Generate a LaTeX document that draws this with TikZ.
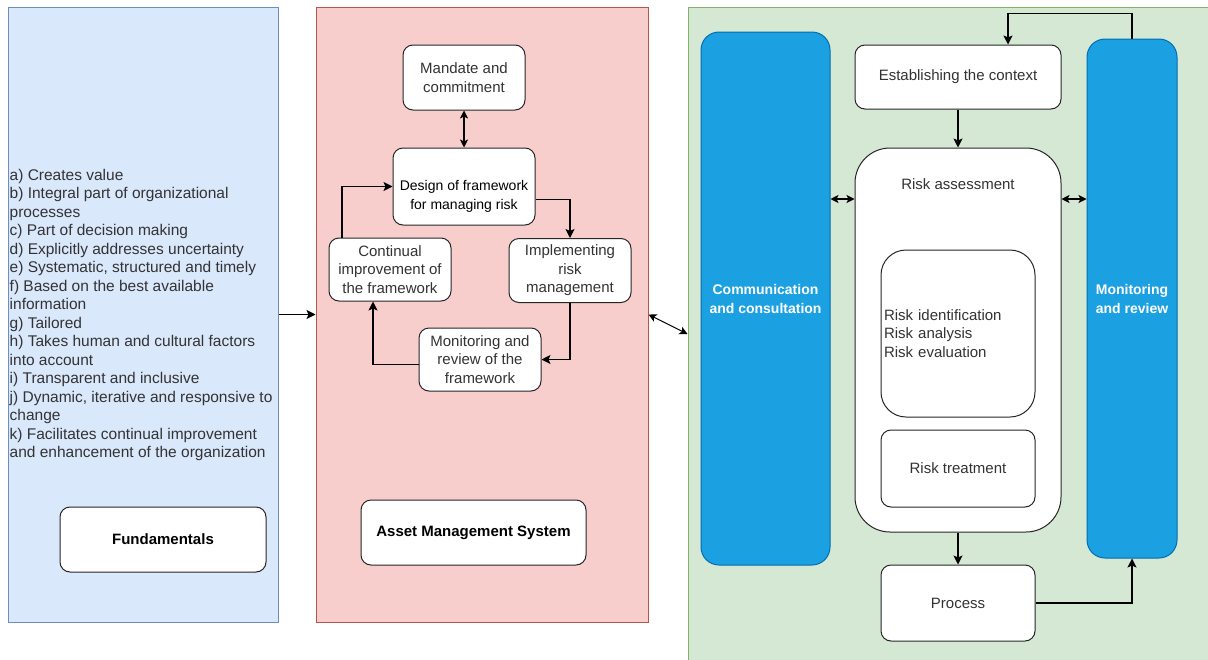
\documentclass[tikz,border=0pt]{standalone}
\usepackage{fontspec}
\setmainfont{Liberation Sans}
\usetikzlibrary{arrows.meta,positioning}

\definecolor{fundfill}{HTML}{DAE8FC}
\definecolor{funddraw}{HTML}{6C8EBF}
\definecolor{amfill}{HTML}{F8CECC}
\definecolor{amdraw}{HTML}{B85450}
\definecolor{riskfill}{HTML}{D5E8D4}
\definecolor{riskdraw}{HTML}{82B366}
\definecolor{bandfill}{HTML}{1BA1E2}
\definecolor{banddraw}{HTML}{006EAF}
\definecolor{txt}{HTML}{333333}

\tikzset{
	panel/.style={draw, line width=1pt, inner sep=0pt},
	box/.style={draw=black!85, fill=white, line width=1pt, rounded corners=10pt,
		align=center, inner sep=0pt, text=txt, font=\fontsize{15}{18.5}\selectfont},
	band/.style={draw=banddraw, fill=bandfill, line width=1pt, rounded corners=18pt,
		align=center, inner sep=0pt, text=white, font=\fontsize{14}{19}\selectfont\bfseries},
	link/.style={line width=1.1pt, -{Stealth[length=9pt,width=9pt,inset=2pt]}},
	dlink/.style={line width=1.1pt, {Stealth[length=8pt,width=8pt,inset=2pt]}-{Stealth[length=8pt,width=8pt,inset=2pt]}}
}

\begin{document}
\begin{tikzpicture}[x=1pt,y=-1pt]
	\useasboundingbox (0,0) rectangle (1208,659);
	% three panels
	\node [panel, draw=funddraw, fill=fundfill, minimum width=270, minimum height=615] (fundpanel) at (143,314.5) {};
	\node [panel, draw=amdraw, fill=amfill, minimum width=332, minimum height=615] (ampanel) at (482,314.5) {};
	\node [panel, draw=riskdraw, fill=riskfill, minimum width=528, minimum height=654] (riskpanel) at (952,334) {};

	% fundamentals
	\node [anchor=west, align=left, inner sep=2pt, text=txt, font=\fontsize{15.5}{18.5}\selectfont] (principles) at ([yshift=-0.5]fundpanel.west) {a) Creates value\\
		b) Integral part of organizational\\
		processes\\
		c) Part of decision making\\
		d) Explicitly addresses uncertainty\\
		e) Systematic, structured and timely\\
		f) Based on the best available\\
		information\\
		g) Tailored\\
		h) Takes human and cultural factors\\
		into account\\
		i) Transparent and inclusive\\
		j) Dynamic, iterative and responsive to\\
		change\\
		k) Facilitates continual improvement\\
		and enhancement of the organization};
	\node [box, minimum width=206, minimum height=65, font=\fontsize{15}{18.5}\selectfont\bfseries, text=black] (fundbox) at (163,539.5) {Fundamentals};

	% asset management system
	\node [box, minimum width=122, minimum height=65] (mandate) at (464,77.5) {Mandate and\\commitment};
	\node [box, minimum width=142, minimum height=77] (design) at (464,186.5) {};
	\node [align=center, inner sep=0pt, font=\fontsize{14}{19}\selectfont] (designlbl) at ([yshift=-10]design.center) {Design of framework\\for managing risk};
	\node [box, minimum width=122, minimum height=63] (contimp) at (390,269.5) {Continual\\improvement of\\the framework};
	\node [box, minimum width=122, minimum height=64] (impl) at (570,270.5) {Implementing\\risk\\management};
	\node [box, minimum width=122, minimum height=63] (monfw) at (480,359.5) {Monitoring and\\review of the\\framework};
	\node [box, minimum width=225, minimum height=65, font=\fontsize{15}{18.5}\selectfont\bfseries, text=black] (ambox) at (473.5,532.5) {Asset Management System};

	\draw [dlink] (mandate) -- (design);
	\draw [link] ([yshift=-13]design.east) -| (impl.north);
	\draw [link] (impl.south) |- (monfw.east);
	\draw [link] ([yshift=-5]monfw.west) -| ([xshift=-17]contimp.south);
	\draw [link] ([xshift=-48]contimp.north) |- (design.west);

	% risk management process
	\node [band, minimum width=129, minimum height=533] (comm) at (765.5,298.5) {Communication\\and consultation};
	\node [band, minimum width=90, minimum height=519] (monrev) at (1132,298.5) {Monitoring\\and review};
	\node [box, minimum width=206, minimum height=64] (estab) at (958,77) {\raisebox{-2pt}{Establishing the context}};
	\node [box, rounded corners=35pt, minimum width=206, minimum height=384] (riskass) at (958,340) {};
	\node [below=31pt, text=txt, font=\fontsize{15}{18.5}\selectfont, inner sep=0pt] (riskasslbl) at (riskass.north) {Risk assessment};
	\node [box, rounded corners=25pt, minimum width=154, minimum height=167, align=left, text width=148pt, inner sep=3pt] (riskid) at (958,333.5) {Risk identification\\Risk analysis\\Risk evaluation};
	\node [box, minimum width=154, minimum height=77] (treat) at (958,468.5) {Risk treatment};
	\node [box, minimum width=154, minimum height=76] (process) at (958,603) {Process};

	\draw [link] (estab) -- (riskass);
	\draw [link] (riskass) -- (process);
	\draw [link] (process.east) -| (monrev.south);
	\draw [link] (monrev.north) -- ++(0,-25) -| ([xshift=50]estab.north);
	\draw [dlink] ([yshift=141]riskass.west) -- ([yshift=141]riskass.west -| comm.east);
	\draw [dlink] ([yshift=141]riskass.east) -- ([yshift=141]riskass.east -| monrev.west);

	% between panels
	\draw [link] (fundpanel.east) -- (ampanel.west);
	\draw [dlink] (ampanel.east) -- (riskpanel.west);
\end{tikzpicture}
\end{document}
